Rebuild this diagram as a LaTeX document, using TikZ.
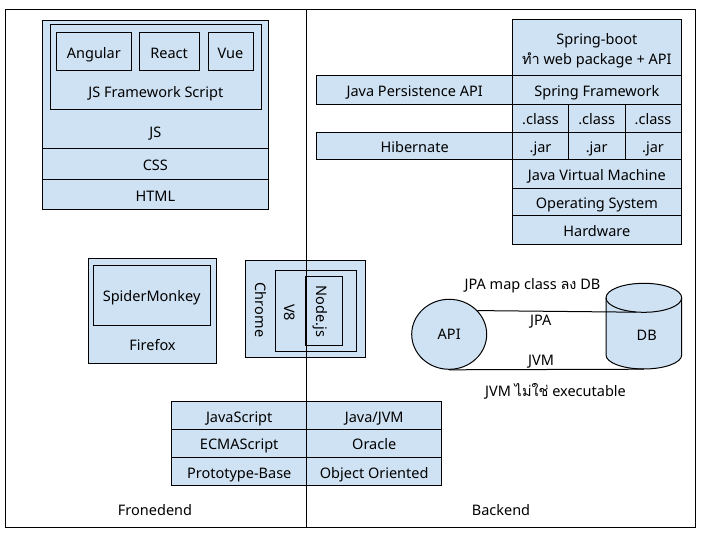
\documentclass[tikz,border=0pt]{standalone}
\usepackage{fontspec}
\setmainfont{Noto Sans}
\newfontfamily\thaifont[Script=Thai]{Loma}
\usetikzlibrary{calc,shapes.geometric}
\definecolor{lb}{HTML}{CFE2F3}
\newcommand{\fs}{\fontsize{14.5}{19.3}\selectfont}
\begin{document}
\begin{tikzpicture}[x=1pt,y=-1pt,
  boxbase/.style={draw=black, fill=lb, line width=1pt, rectangle, inner sep=0pt, font=\fs},
  box/.style={boxbase, text height=13pt, text depth=0pt},
  txt/.style={inner sep=0pt, font=\fs, text=black, text height=10.3pt, text depth=0pt},
  conn/.style={draw=black, line width=1pt}]
\fill[white] (0,0) rectangle (720,540);
\useasboundingbox (0,0) rectangle (720,540);
% frame
\draw[line width=1pt] (5,10) rectangle (695,527);
\coordinate (divtop) at (306,10);
\coordinate (divbot) at (306,527);
% ---------- Frontend stack
\node[box, minimum width=225.3pt, minimum height=127.6pt] (js) at (155.35,84.5) {};
\node[txt] (jslbl) at (155.35,132) {JS};
\node[box, minimum width=225.3pt, minimum height=31pt] (css) at (155.35,163.8) {CSS};
\node[box, minimum width=225.3pt, minimum height=30.7pt] (html) at (155.35,194.65) {HTML};
\node[box, minimum width=211.7pt, minimum height=85pt] (fw) at (155.85,67.5) {};
\node[txt] (fwlbl) at (155.85,92.3) {JS Framework Script};
\node[box, minimum width=75.7pt, minimum height=37.7pt] (angular) at (93.85,51.85) {Angular};
\node[box, minimum width=60.3pt, minimum height=37.7pt] (react) at (169.15,51.85) {React};
\node[box, minimum width=45pt, minimum height=37.7pt] (vue) at (230.5,51.85) {Vue};
% ---------- Backend stack
\node[boxbase, minimum width=168.3pt, minimum height=56pt] (sboot) at (596.85,48) {};
\node[inner sep=0pt, font=\fs, align=center, anchor=base] (sbootlbl) at (596.85,64.3) {Spring-boot\\{\thaifont ทำ} web package + API};
\node[box, minimum width=168.3pt, minimum height=28.3pt] (sf) at (596.85,90.15) {Spring Framework};
\node[box, minimum width=196pt, minimum height=28.3pt] (jpa) at (414.7,90.15) {Java Persistence API};
\node[box, minimum width=55.6pt, minimum height=28pt] (cls1) at (540.5,118.3) {.class};
\node[box, minimum width=56.7pt, minimum height=28pt] (cls2) at (596.65,118.3) {.class};
\node[box, minimum width=56pt, minimum height=28pt] (cls3) at (653,118.3) {.class};
\node[box, minimum width=55.6pt, minimum height=27.7pt] (jar1) at (540.5,146.15) {.jar};
\node[box, minimum width=56.7pt, minimum height=27.7pt] (jar2) at (596.65,146.15) {.jar};
\node[box, minimum width=56pt, minimum height=27.7pt] (jar3) at (653,146.15) {.jar};
\node[box, minimum width=196pt, minimum height=27.7pt] (hib) at (414.7,146.15) {Hibernate};
\node[box, minimum width=168.3pt, minimum height=28.3pt] (jvm) at (596.85,174.15) {Java Virtual Machine};
\node[box, minimum width=168.3pt, minimum height=27.7pt] (os) at (596.85,202.15) {Operating System};
\node[box, minimum width=168.3pt, minimum height=28.3pt] (hw) at (596.85,230.15) {Hardware};
% ---------- Firefox
\node[box, minimum width=128.4pt, minimum height=105pt] (ff) at (152.5,310.8) {};
\node[txt] (fflbl) at (152.5,345.8) {Firefox};
\node[box, minimum width=116.7pt, minimum height=60pt] (sm) at (151.65,295) {SpiderMonkey};
% ---------- Chrome
\node[box, minimum width=120pt, minimum height=96.6pt] (chrome) at (305.7,309) {};
\node[txt, rotate=-90] (chromelbl) at (260.7,310) {Chrome};
\node[box, minimum width=81.7pt, minimum height=81.7pt] (v8) at (315.85,310.85) {};
\node[txt, rotate=-90] (v8lbl) at (289.5,312.5) {V8};
\node[box, minimum width=37pt, minimum height=69pt] (nodejs) at (324.2,311.2) {};
\node[txt, rotate=-90] (nodelbl) at (321.7,311.5) {Node.js};
% divider
\draw[conn] (divtop) -- (divbot);
% ---------- API / DB
\node[draw=black, fill=lb, line width=1pt, ellipse, minimum width=75pt, minimum height=70pt, inner sep=0pt, font=\fs, text height=10.3pt, text depth=0pt] (api) at (449.2,334.3) {API};
\fill[lb] (606,297.8) -- (606,355) arc[start angle=180, end angle=360, x radius=37.85pt, y radius=14pt] -- (681.7,297.8) arc[start angle=0, end angle=180, x radius=37.85pt, y radius=14.5pt] -- cycle;
\draw[line width=1pt] (606,297.8) -- (606,355) arc[start angle=180, end angle=360, x radius=37.85pt, y radius=14pt] -- (681.7,297.8);
\draw[line width=1pt] (643.85,297.8) ellipse[x radius=37.85pt, y radius=14.5pt];
\node[txt] (db) at (646.7,335) {DB};
\coordinate (jpaend) at (636,312.2);
\coordinate (jvmend) at (643.85,369.2);
\draw[conn] (api.40) -- (jpaend);
\draw[conn] (api.south) -- (jvmend);
\node[txt] (maplbl) at (532.5,284.7) {JPA map class {\thaifont ลง} DB};
\node[txt] (jpalbl) at (540.8,320.8) {JPA};
\node[txt] (jvmlbl) at (541,360) {JVM};
\node[txt] (notexe) at (555.5,391.3) {JVM {\thaifont ไม่ใช่} executable};
% ---------- bottom table
\node[box, minimum width=135pt, minimum height=27.6pt] (tjs) at (239.2,415.5) {JavaScript};
\node[box, minimum width=135pt, minimum height=27.6pt] (tjava) at (374.2,415.5) {Java/JVM};
\node[box, minimum width=135pt, minimum height=28pt] (tecma) at (239.2,443.3) {ECMAScript};
\node[box, minimum width=135pt, minimum height=28pt] (toracle) at (374.2,443.3) {Oracle};
\node[box, minimum width=135pt, minimum height=28.4pt] (tproto) at (239.2,471.5) {Prototype-Base};
\node[box, minimum width=135pt, minimum height=28.4pt] (toop) at (374.2,471.5) {Object Oriented};
% labels
\node[txt] (felbl) at (155,510) {Fronedend};
\node[txt] (belbl) at (501,510) {Backend};
\end{tikzpicture}
\end{document}
